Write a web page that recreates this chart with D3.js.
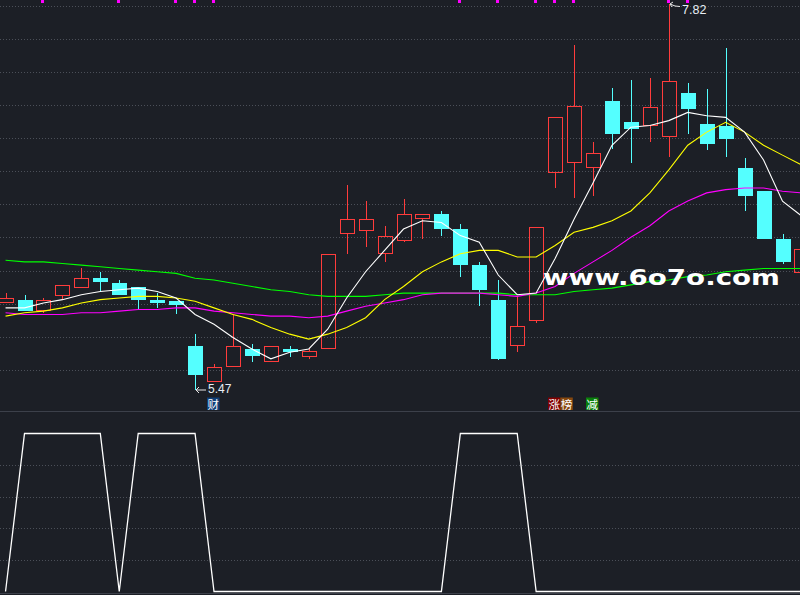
<!DOCTYPE html>
<html><head><meta charset="utf-8">
<script src="https://cdn.jsdelivr.net/npm/d3@7"></script>
<style>html,body{margin:0;padding:0;background:#1c1f26;overflow:hidden}</style>
</head><body><svg id="c" width="800" height="595"></svg>
<script>
// ---- data ----
const open  = [6.00,6.02,5.95,6.04,6.09,6.15,6.12,6.10,6.02,6.01,5.74,5.52,5.61,5.72,5.64,5.72,5.67,5.72,6.42,6.44,6.30,6.38,6.51,6.54,6.45,6.23,6.02,5.74,5.89,6.79,6.85,6.82,7.23,7.10,7.08,7.01,7.28,7.09,7.08,6.82,6.68,6.39,6.18];
const high  = [6.06,6.05,6.03,6.11,6.21,6.19,6.14,6.10,6.06,6.01,5.81,5.63,5.93,5.75,5.74,5.74,5.72,6.30,6.72,6.62,6.47,6.63,6.54,6.56,6.48,6.25,6.14,6.04,6.46,7.13,7.57,6.98,7.31,7.36,7.37,7.82,7.34,7.30,7.55,6.88,6.68,6.42,6.33];
const low   = [6.00,5.95,5.94,6.02,6.09,6.07,6.05,5.96,5.97,5.93,5.47,5.52,5.61,5.64,5.64,5.67,5.66,5.72,6.30,6.34,6.25,6.37,6.39,6.41,6.16,5.98,5.65,5.70,5.88,6.70,6.64,6.65,6.94,6.85,6.98,6.89,7.03,6.93,6.89,6.56,6.39,6.24,6.18];
const close = [6.03,5.95,6.02,6.11,6.15,6.13,6.05,6.02,6.00,5.99,5.56,5.61,5.74,5.68,5.74,5.70,5.71,6.30,6.51,6.51,6.41,6.54,6.54,6.45,6.23,6.08,5.66,5.86,6.46,7.13,7.20,6.91,7.03,7.06,7.19,7.35,7.18,6.97,7.00,6.65,6.39,6.25,6.33];
const ma5   = [5.97,5.97,6.00,6.02,6.05,6.07,6.08,6.09,6.07,6.03,5.93,5.87,5.79,5.72,5.66,5.70,5.72,5.84,6.03,6.19,6.32,6.45,6.50,6.49,6.41,6.37,6.17,6.05,6.06,6.27,6.51,6.73,6.96,7.07,7.08,7.11,7.16,7.14,7.13,7.04,6.87,6.62,6.53];
const ma10  = [5.92,5.94,5.95,5.97,6.00,6.02,6.03,6.04,6.04,6.03,6.01,5.97,5.93,5.90,5.85,5.81,5.78,5.81,5.85,5.91,6.02,6.10,6.19,6.25,6.30,6.32,6.32,6.28,6.28,6.35,6.43,6.46,6.50,6.56,6.67,6.81,6.96,7.04,7.10,7.04,6.96,6.90,6.84];
const ma20  = [5.94,5.93,5.93,5.93,5.94,5.94,5.95,5.96,5.96,5.97,5.97,5.95,5.94,5.93,5.92,5.92,5.91,5.92,5.95,5.98,6.00,6.02,6.05,6.06,6.06,6.06,6.05,6.04,6.06,6.10,6.18,6.25,6.32,6.40,6.47,6.56,6.62,6.67,6.69,6.70,6.70,6.68,6.67];
const ma60  = [6.26,6.25,6.25,6.24,6.23,6.22,6.21,6.20,6.19,6.18,6.15,6.14,6.12,6.10,6.08,6.07,6.05,6.04,6.04,6.04,6.05,6.06,6.06,6.06,6.06,6.06,6.06,6.05,6.05,6.05,6.07,6.08,6.09,6.11,6.13,6.14,6.16,6.17,6.19,6.20,6.21,6.21,6.21];
const signal = [0,100,100,100,100,100,0,100,100,100,100,0,0,0,0,0,0,0,0,0,0,0,0,0,100,100,100,100,0,0,0,0,0,0,0,0,0,0,0,0,0,0,0];
const markIdx = [2,6,9,10,11,24,26,28,29,30,35,36];
const tagIdx  = [11,29,31];
const tagText = ["财","涨榜","减"];
const watermark = "www.6o7o.com";

// ---- styles ----
const BG = "#1c1f26", UP = "#ff3c3c", DOWN = "#54ffff", GRID = "#4b4f58";
const tagColor = {"财":"#0f3f78","涨":"#800000","榜":"#86480e","减":"#0a800a"};

const W = 800, H = 595;
const svg = d3.select("#c");
svg.append("rect").attr("width", W).attr("height", H).attr("fill", BG);

const x = d3.scaleLinear().domain([0, 42]).range([5.55, 801.45]);
const y = d3.scaleLinear().domain([5.47, 7.82]).range([390, 4]);
const y2 = d3.scaleLinear().domain([0, 100]).range([591.5, 433.5]);

// grid (main panel)
const grid = svg.append("g").attr("stroke", GRID).attr("stroke-dasharray", "1,2").attr("shape-rendering", "crispEdges");
d3.range(12).forEach(k => {
  const yy = Math.round(6 + k * 33.07) + 0.5;
  grid.append("line").attr("x1", 0).attr("x2", W).attr("y1", yy).attr("y2", yy);
});
// grid (lower panel)
[20, 40, 60, 80].forEach(v => {
  const yy = Math.round(y2(v)) + 0.5;
  grid.append("line").attr("x1", 0).attr("x2", W).attr("y1", yy).attr("y2", yy);
});
// separators
svg.append("line").attr("x1", 0).attr("x2", W).attr("y1", 411.5).attr("y2", 411.5).attr("stroke", "#3c404a");
svg.append("line").attr("x1", 0).attr("x2", W).attr("y1", 593.5).attr("y2", 593.5).attr("stroke", "#3c404a");

// magenta top marks
svg.append("g").selectAll("rect").data(markIdx).join("rect")
  .attr("x", i => Math.round(x(i)) - 2).attr("y", 0).attr("width", 3).attr("height", 3).attr("fill", "#ff00ff");

// candles
const cg = svg.append("g").attr("shape-rendering", "crispEdges");
open.forEach((o, i) => {
  const c = close[i], h = high[i], l = low[i];
  const cx = Math.round(x(i));
  const up = c > o;
  const top = Math.round(y(Math.max(o, c))), bot = Math.round(y(Math.min(o, c)));
  const yh = Math.round(y(h)), yl = Math.round(y(l));
  const col = up ? UP : DOWN;
  if (up) {
    if (yh < top) cg.append("line").attr("x1", cx + 0.5).attr("x2", cx + 0.5).attr("y1", yh).attr("y2", top).attr("stroke", col);
    if (yl > bot) cg.append("line").attr("x1", cx + 0.5).attr("x2", cx + 0.5).attr("y1", bot).attr("y2", yl).attr("stroke", col);
    cg.append("rect").attr("x", cx - 7 + 0.5).attr("y", top + 0.5).attr("width", 14).attr("height", Math.max(bot - top - 1, 1))
      .attr("fill", "none").attr("stroke", col);
  } else {
    cg.append("line").attr("x1", cx + 0.5).attr("x2", cx + 0.5).attr("y1", yh).attr("y2", yl).attr("stroke", col);
    cg.append("rect").attr("x", cx - 7).attr("y", top).attr("width", 15).attr("height", Math.max(bot - top, 1)).attr("fill", col);
  }
});

// moving averages
const line = d3.line().x((d, i) => x(i)).y(d => y(d));
[[ma60, "#00ff00"], [ma20, "#ff00ff"], [ma10, "#ffff00"], [ma5, "#ffffff"]].forEach(([arr, col]) => {
  svg.append("path").attr("d", line(arr)).attr("fill", "none").attr("stroke", col).attr("stroke-width", 1.1);
});

// lower indicator
const line2 = d3.line().x((d, i) => x(i)).y(d => y2(d));
svg.append("path").attr("d", line2(signal)).attr("fill", "none").attr("stroke", "#ffffff").attr("stroke-width", 1.3);

// extreme labels
const lo = d3.min(low), loI = low.indexOf(lo);
const hi = d3.max(high), hiI = high.indexOf(hi);
{
  const cx = Math.round(x(loI)), yy = y(lo);
  svg.append("path").attr("d", `M${cx + 11},${yy} L${cx + 1},${yy} M${cx + 4},${yy - 3} L${cx + 1},${yy} L${cx + 4},${yy + 3}`)
    .attr("stroke", "#e8e8e8").attr("fill", "none");
  svg.append("text").attr("x", cx + 13).attr("y", yy - 1).attr("dy", "0.35em").attr("fill", "#e8eef5")
    .attr("font-family", "Liberation Sans, Arial, sans-serif").attr("font-size", 12).text(d3.format(".2f")(lo));
}
{
  const cx = Math.round(x(hiI)), yy = y(hi);
  svg.append("path").attr("d", `M${cx + 1},${yy} L${cx + 6},${yy + 2} L${cx + 11},${yy + 2.5} M${cx + 4},${yy - 2} L${cx + 1},${yy} L${cx + 3},${yy + 3}`)
    .attr("stroke", "#e8e8e8").attr("fill", "none");
  svg.append("text").attr("x", cx + 13).attr("y", yy + 6).attr("dy", "0.35em").attr("fill", "#e8eef5")
    .attr("font-family", "Liberation Sans, Arial, sans-serif").attr("font-size", 12.5).text(d3.format(".2f")(hi));
}

// tags
tagIdx.forEach((ti, k) => {
  const chars = Array.from(tagText[k]);
  const x0 = Math.round(x(ti)) - 7;
  chars.forEach((ch, j) => {
    const bx = x0 + j * 12.3;
    svg.append("rect").attr("x", bx).attr("y", 397.5).attr("width", 12.5).attr("height", 12.5).attr("fill", tagColor[ch]);
    svg.append("text").attr("x", bx + 6.25).attr("y", 404.5).attr("dy", "0.36em").attr("text-anchor", "middle")
      .attr("fill", "#ffffff").attr("font-family", "Noto Sans CJK SC, sans-serif").attr("font-size", 11.5).text(ch);
  });
});

// watermark
svg.append("text").attr("x", 543).attr("y", 285).attr("fill", "#ffffff")
  .attr("font-family", "DejaVu Sans, sans-serif").attr("font-weight", "bold").attr("font-size", 21)
  .attr("textLength", 237).attr("lengthAdjust", "spacingAndGlyphs").text(watermark);
</script></body></html>
